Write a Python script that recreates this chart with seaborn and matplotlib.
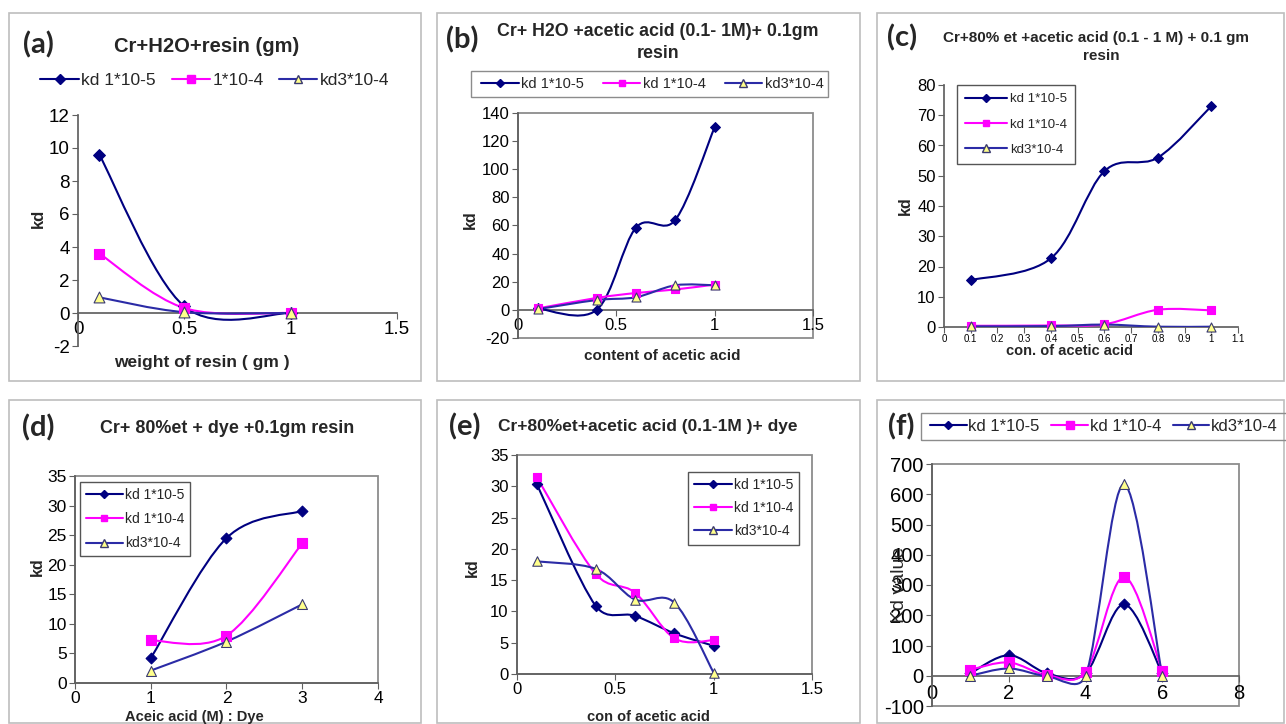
import numpy as np
import matplotlib
matplotlib.use('Agg')
import matplotlib.pyplot as plt
import seaborn as sns
from matplotlib.path import Path
from matplotlib.patches import PathPatch, Rectangle
from matplotlib.lines import Line2D
from matplotlib.ticker import FuncFormatter, MultipleLocator

W, H = 1286, 724

# ---- data ----
labels_std = ["kd 1*10-5", "kd 1*10-4", "kd3*10-4"]
labels_a = ["kd 1*10-5", "1*10-4", "kd3*10-4"]

a_x = [0.1, 0.5, 1.0]
a_kd1 = [9.6, 0.4, 0.0]
a_kd2 = [3.6, 0.3, 0.0]
a_kd3 = [0.95, 0.05, 0.0]

b_x = [0.1, 0.4, 0.6, 0.8, 1.0]
b_kd1 = [1.0, 0.0, 58.5, 64.0, 130.0]
b_kd2 = [1.0, 8.5, 12.0, 14.5, 18.0]
b_kd3 = [0.5, 7.0, 9.0, 17.5, 17.5]

c_x = [0.1, 0.4, 0.6, 0.8, 1.0]
c_kd1 = [15.5, 22.7, 51.5, 56.0, 73.0]
c_kd2 = [0.4, 0.5, 0.9, 5.7, 5.5]
c_kd3 = [0.2, 0.3, 0.8, 0.1, 0.1]

d_x = [1, 2, 3]
d_kd1 = [4.2, 24.5, 29.1]
d_kd2 = [7.2, 8.0, 23.6]
d_kd3 = [2.1, 7.0, 13.3]

e_x = [0.1, 0.4, 0.6, 0.8, 1.0]
e_kd1 = [30.4, 10.9, 9.3, 6.5, 4.5]
e_kd2 = [31.5, 16.0, 13.0, 5.7, 5.4]
e_kd3 = [18.0, 16.8, 11.9, 11.4, 0.2]

f_x = [1, 2, 3, 4, 5, 6]
f_kd1 = [8, 68, 8, 8, 236, 8]
f_kd2 = [20, 44, 2, 13, 327, 16]
f_kd3 = [0, 24, -2, 0, 633, 0]

# series styles (line colour, marker, face, edge)
STYLES = [
    dict(line='#000080', marker='D', face='#000080', edge='#000080', ms=5.0),
    dict(line='#FF00FF', marker='s', face='#FF00FF', edge='#FF00FF', ms=6.0),
    dict(line='#2B2BA6', marker='^', face='#FFFF8C', edge='#3A3A70', ms=6.5),
]
AXIS_COL = '#606060'
FRAME_COL = '#8C8C8C'

sns.set_theme(style='white')
plt.rcParams['font.family'] = ['Liberation Sans', 'DejaVu Sans']

fig = plt.figure(figsize=(W / 100, H / 100), dpi=100)


def px(x, y):
    return x / W, 1 - y / H


def add_ax(x0, x1, ytop, ybot):
    return fig.add_axes([x0 / W, 1 - ybot / H, (x1 - x0) / W, (ybot - ytop) / H])


def excel_smooth(ax, x, y, color, lw=1.5):
    """Bezier path like Excel's 'smoothed line' option."""
    data = np.column_stack([x, y]).astype(float)
    disp = ax.transData.transform(data)
    n = len(data)
    verts = [data[0]]
    codes = [Path.MOVETO]
    for i in range(n - 1):
        i0, i3 = max(i - 1, 0), min(i + 2, n - 1)
        d12 = np.linalg.norm(disp[i + 1] - disp[i])
        d02 = np.linalg.norm(disp[i + 1] - disp[i0])
        d13 = np.linalg.norm(disp[i3] - disp[i])
        f1 = f2 = 1 / 6
        if d02 / 6 >= d12 / 2 and d02 > 0:
            f1 = d12 / 2 / d02
        if d13 / 6 >= d12 / 2 and d13 > 0:
            f2 = d12 / 2 / d13
        c1 = data[i] + f1 * (data[i + 1] - data[i0])
        c2 = data[i + 1] - f2 * (data[i3] - data[i])
        verts += [c1, c2, data[i + 1]]
        codes += [Path.CURVE4] * 3
    ax.add_patch(PathPatch(Path(verts, codes), fill=False, edgecolor=color,
                           lw=lw, transform=ax.transData, zorder=3))


def draw_series(ax, x, ys, scale=1.0):
    for y, st in zip(ys, STYLES):
        excel_smooth(ax, x, y, st['line'])
        sns.scatterplot(x=x, y=y, marker=st['marker'], s=(st['ms'] * scale) ** 2,
                        color=st['face'], edgecolor=st['edge'], linewidth=0.8,
                        ax=ax, zorder=4, legend=False, clip_on=False)


def handles(scale=1.0):
    return [Line2D([], [], color=st['line'], lw=1.5, marker=st['marker'],
                   markerfacecolor=st['face'], markeredgecolor=st['edge'],
                   markersize=st['ms'] * 0.8 * scale)
            for st in STYLES]


def style_axes(ax, xlim, ylim, xstep, ystep, fs, xfs=None, zero_axis=False, frame=False,
               xpad=2):
    ax.set_xlim(*xlim)
    ax.set_ylim(*ylim)
    ax.xaxis.set_major_locator(MultipleLocator(xstep))
    ax.yaxis.set_major_locator(MultipleLocator(ystep))
    fmt = FuncFormatter(lambda v, p: f'{round(v, 6):g}')
    ax.xaxis.set_major_formatter(fmt)
    ax.yaxis.set_major_formatter(fmt)
    ax.set_facecolor('none')
    for s in ax.spines.values():
        s.set_visible(False)
    ax.spines['left'].set_visible(True)
    ax.spines['bottom'].set_visible(True)
    ax.spines['left'].set_color(AXIS_COL)
    ax.spines['bottom'].set_color(AXIS_COL)
    if zero_axis:
        ax.spines['bottom'].set_position(('data', 0))
    if frame:
        ax.add_patch(Rectangle((0, 0), 1, 1, transform=ax.transAxes, fill=False,
                               edgecolor=FRAME_COL, lw=1.3, clip_on=False, zorder=0))
    ax.tick_params(bottom=True, left=True, direction='out', length=4, width=0.8,
                   color=AXIS_COL, pad=2, labelcolor='black')
    ax.tick_params(axis='y', labelsize=fs)
    ax.tick_params(axis='x', labelsize=xfs or fs, pad=xpad)
    ax.set_xlabel('')
    ax.set_ylabel('')


def ftext(x, y, s, size, bold=True, family=None, **kw):
    kw.setdefault('ha', 'center')
    kw.setdefault('va', 'center')
    if family:
        kw['family'] = family
    fig.text(*px(x, y), s, fontsize=size, fontweight='bold' if bold else 'normal', **kw)


def fig_box(x0, x1, y0, y1, color, lw):
    fig.add_artist(Rectangle(px(x0, y1), (x1 - x0) / W, (y1 - y0) / H,
                             transform=fig.transFigure, fill=False,
                             edgecolor=color, lw=lw))


# panel borders
for (x0, x1, y0, y1) in [(9, 421, 13, 381), (437, 860, 13, 381), (877, 1284, 13, 381),
                         (9, 421, 400, 723), (437, 860, 400, 723), (877, 1284, 400, 723)]:
    fig_box(x0, x1, y0, y1, '#BEBEBE', 1.2)

LABEL_FONT = ['Lato', 'DejaVu Sans']

# ---- (a) ----
ax = add_ax(78, 397, 115, 346)
style_axes(ax, (0, 1.5), (-2, 12), 0.5, 2, 13.5, zero_axis=True)
draw_series(ax, a_x, [a_kd1, a_kd2, a_kd3], scale=1.2)
ax.legend(handles(1.2), labels_a, loc='center', bbox_to_anchor=px(215, 80),
          bbox_transform=fig.transFigure, ncol=3, frameon=False, fontsize=12.5,
          handlelength=2.2, handletextpad=0.15, columnspacing=0.9, borderaxespad=0)
ftext(38, 45, '(a)', 21, family=LABEL_FONT)
ftext(207, 47, 'Cr+H2O+resin (gm)', 14.5)
ftext(202, 362, 'weight of resin ( gm )', 12.5)
ftext(38, 218, 'kd', 12, rotation=90)

# ---- (b) ----
ax = add_ax(518, 813, 113, 338)
style_axes(ax, (0, 1.5), (-20, 140), 0.5, 20, 12, zero_axis=True, frame=True)
draw_series(ax, b_x, [b_kd1, b_kd2, b_kd3], scale=1.0)
fig_box(471, 828, 71, 97, FRAME_COL, 1.0)
ax.legend(handles(), labels_std, loc='center', bbox_to_anchor=px(652, 84),
          bbox_transform=fig.transFigure, ncol=3, fontsize=10.5, frameon=False,
          handlelength=2.6, handletextpad=0.15, columnspacing=1.3, borderaxespad=0)
ftext(462, 40, '(b)', 21, family=LABEL_FONT)
ftext(658, 32, 'Cr+ H2O +acetic acid (0.1- 1M)+ 0.1gm', 12.8)
ftext(658, 54, 'resin', 12.8)
ftext(662, 356, 'content of acetic acid', 11)
ftext(470, 220, 'kd', 11.5, rotation=90)

# ---- (c) ----
ax = add_ax(944, 1238, 85, 327)
style_axes(ax, (0, 1.1), (0, 80), 0.1, 10, 12, xfs=7, xpad=1)
draw_series(ax, c_x, [c_kd1, c_kd2, c_kd3], scale=1.0)
leg = ax.legend(handles(), labels_std, loc='upper left', bbox_to_anchor=px(957, 85),
                bbox_transform=fig.transFigure, fontsize=9.5, fancybox=False,
                edgecolor='#555555', framealpha=1, handlelength=3.2, handletextpad=0.2,
                labelspacing=1.0, borderaxespad=0, borderpad=0.6)
leg.get_frame().set_linewidth(1.0)
ftext(902, 38, '(c)', 21, family=LABEL_FONT)
ftext(1096, 38, 'Cr+80% et +acetic acid (0.1 - 1 M) + 0.1 gm', 11)
ftext(1101, 56, 'resin', 11)
ftext(1070, 351, 'con. of acetic acid', 10.5)
ftext(905, 206, 'kd', 11.5, rotation=90)

# ---- (d) ----
ax = add_ax(75, 378, 476, 683)
style_axes(ax, (0, 4), (0, 35), 1, 5, 12.5, frame=True)
draw_series(ax, d_x, [d_kd1, d_kd2, d_kd3], scale=1.1)
leg = ax.legend(handles(), labels_std, loc='upper left', bbox_to_anchor=px(80, 482),
                bbox_transform=fig.transFigure, fontsize=10, fancybox=False,
                edgecolor='#555555', framealpha=1, handlelength=2.7, handletextpad=0.15,
                labelspacing=0.75, borderaxespad=0, borderpad=0.4)
leg.get_frame().set_linewidth(1.0)
ftext(38, 428, '(d)', 21, family=LABEL_FONT)
ftext(227, 428, 'Cr+ 80%et + dye +0.1gm resin', 12.9)
ftext(194, 717, 'Aceic acid (M) : Dye', 10.5)
ftext(37, 567, 'kd', 11.5, rotation=90)

# ---- (e) ----
ax = add_ax(517, 812, 455, 674)
style_axes(ax, (0, 1.5), (0, 35), 0.5, 5, 12, frame=True)
draw_series(ax, e_x, [e_kd1, e_kd2, e_kd3], scale=1.05)
leg = ax.legend(handles(), labels_std, loc='upper left', bbox_to_anchor=px(688, 472),
                bbox_transform=fig.transFigure, fontsize=10, fancybox=False,
                edgecolor='#555555', framealpha=1, handlelength=2.7, handletextpad=0.15,
                labelspacing=0.65, borderaxespad=0, borderpad=0.45)
leg.get_frame().set_linewidth(1.0)
ftext(465, 427, '(e)', 21, family=LABEL_FONT)
ftext(648, 427, 'Cr+80%et+acetic acid (0.1-1M )+ dye', 12.5)
ftext(648, 717, 'con of acetic acid', 10.5)
ftext(472, 568, 'kd', 11.5, rotation=90)

# ---- (f) ----
ax = add_ax(932, 1239, 464, 706)
style_axes(ax, (0, 8), (-100, 700), 2, 100, 14.5, zero_axis=True, frame=True)
draw_series(ax, f_x, [f_kd1, f_kd2, f_kd3], scale=1.1)
fig_box(921, 1292, 413, 440, FRAME_COL, 1.0)
ax.legend(handles(1.1), labels_std, loc='center left', bbox_to_anchor=px(930, 426.5),
          bbox_transform=fig.transFigure, ncol=3, fontsize=12, frameon=False,
          handlelength=2.2, handletextpad=0.1, columnspacing=0.7, borderaxespad=0,
          borderpad=0)
ftext(901, 427, '(f)', 21, family=LABEL_FONT)
# the reference draws this label straight over the tick numbers
ftext(899, 585, 'Kd value', 14, bold=False, rotation=90)

fig.savefig('out.png', dpi=100, facecolor='white')
